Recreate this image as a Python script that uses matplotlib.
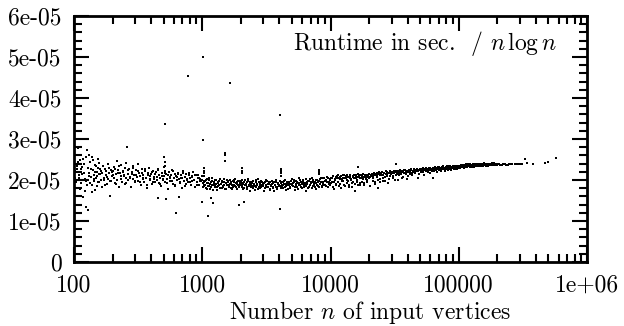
import numpy as np
import matplotlib
matplotlib.use("Agg")
import matplotlib.pyplot as plt
from matplotlib.ticker import LogLocator, MultipleLocator, NullFormatter

# runtime / (n log n), values in units of 1e-5 sec
n_1e2 = [101, 103, 104, 105, 106, 107, 109, 110, 111, 112,
         114, 116, 117, 118, 119, 121, 122, 123, 124, 126,
         127, 128, 129,
         131, 133, 134, 136, 137, 139, 141, 142, 144, 146,
         148, 150, 152, 154, 156, 158, 160, 163, 165, 167,
         170, 172, 175, 177, 180, 183, 185, 188, 191, 193,
         196, 198,
         201, 204, 206, 209, 212, 215, 218, 221, 224, 227,
         231, 234, 237, 241, 244, 248, 252, 256, 256, 259,
         262, 266, 270, 274, 278, 282, 286, 291, 295, 300,
         304, 309, 313, 318, 323, 328, 333, 338, 343, 348,
         354, 359, 365, 370, 376, 382, 388, 394, 400, 406,
         412, 418,
         424, 430, 437, 443, 450, 452, 457, 464, 471, 478,
         485, 492, 499, 504, 507, 512, 512, 512, 513, 516,
         520, 524, 532, 540, 548, 556, 565, 573, 582, 591,
         600, 609, 618, 623, 628, 637, 647, 657, 660, 667,
         677, 688, 698, 709, 720, 731, 742, 753, 765, 774,
         777, 789, 801, 813, 826, 838, 851, 864, 878, 891,
         905, 919, 933, 948, 962, 977, 992,
         102, 108, 113, 115, 120, 125, 130, 132, 135, 138,
         140, 143, 145, 147, 149, 151, 153, 155, 157, 159,
         162, 166, 169, 174, 178, 182, 187, 192, 197, 203,
         208, 214, 220, 226, 233, 240, 247, 255, 264, 272,
         281, 289, 298, 307, 317, 327, 337, 347, 358, 369,
         380, 392, 404, 416, 428, 440, 455, 468, 482, 497,
         511, 527, 544, 561, 578, 596, 614, 633, 652, 672,
         693, 714, 736, 759, 782, 806, 831, 857, 883, 910,
         938, 967, 996]
r_1e2 = [2.21, 2.62, 1.95, 2.28, 2.35, 2.78, 2.05, 2.12, 2.48, 1.78,
         2.26, 2.14, 1.58, 2.52, 2.40, 2.02, 1.72, 2.55, 1.34, 2.73,
         1.88, 1.27, 2.30,
         2.18, 2.44, 1.92, 2.08, 2.56, 1.70, 2.25, 2.12, 1.98, 2.36,
         2.04, 2.19, 1.86, 2.29, 2.41, 1.95, 2.15, 2.22, 1.82, 2.33,
         2.06, 1.99, 2.27, 2.13, 1.90, 2.38, 2.02, 2.17, 1.61, 2.24,
         1.97, 2.10,
         2.21, 2.05, 2.32, 1.93, 2.14, 2.46, 2.01, 2.25, 1.84, 2.18,
         2.09, 2.36, 1.96, 2.22, 2.11, 1.90, 2.29, 2.04, 2.41, 2.80,
         2.15, 1.99, 2.26, 2.08, 1.82, 2.19, 2.33, 2.02, 2.13, 1.94,
         2.24, 2.07, 2.38, 1.98, 2.16, 2.10, 1.87, 2.27, 2.03, 2.12,
         1.95, 2.21, 2.06, 1.80, 2.17, 2.30, 1.99, 2.09, 2.14, 1.91,
         2.23, 2.02,
         2.08, 1.96, 2.19, 2.01, 2.27, 1.56, 1.92, 2.12, 2.05, 1.86,
         2.16, 1.99, 2.31, 2.56, 2.09, 2.22, 2.34, 2.45, 3.37, 1.94,
         1.54, 2.14, 2.03, 1.78, 2.20, 2.07, 1.97, 2.11, 2.25, 1.90,
         2.04, 2.15, 1.85, 1.20, 2.09, 1.99, 2.18, 2.02, 1.59, 1.93,
         2.12, 2.06, 1.81, 2.22, 1.98, 2.08, 1.91, 2.14, 2.01, 4.54,
         1.95, 2.17, 2.04, 1.87, 2.10, 1.97, 2.19, 2.00, 1.84, 2.11,
         1.94, 2.06, 2.13, 1.89, 2.03, 1.98, 2.09,
         2.05, 2.44, 1.92, 2.31, 2.17, 1.98, 2.60, 2.10, 2.27, 1.89,
         2.48, 2.03, 2.20, 1.76, 2.33, 2.09, 2.52, 1.94, 2.14, 2.26,
         2.00, 2.18, 2.35, 1.88, 2.23, 2.07, 2.30, 1.97, 2.20, 2.12,
         2.28, 1.91, 2.16, 2.34, 2.03, 2.19, 2.10, 1.93, 2.24, 2.05,
         2.14, 2.30, 1.98, 2.11, 2.22, 1.95, 2.18, 2.06, 2.26, 1.89,
         2.12, 2.03, 2.20, 1.96, 2.15, 2.07, 2.24, 1.90, 2.10, 2.02,
         2.17, 1.93, 2.12, 2.05, 1.98, 2.21, 1.88, 2.08, 2.14, 1.96,
         2.04, 2.16, 1.86, 2.02, 2.11, 1.94, 2.07, 1.99, 2.13, 1.88,
         2.05, 1.97, 2.01]

n_1e3 = [1000, 1007, 1014, 1014, 1024, 1024, 1024, 1024, 1024, 1024,
         1040, 1056, 1072, 1088, 1105, 1110, 1122, 1139, 1157, 1170,
         1175, 1193, 1210, 1211, 1230, 1249, 1268, 1288, 1308, 1328,
         1349, 1370, 1391, 1413, 1435, 1457, 1480, 1503, 1506, 1510,
         1527, 1550, 1575, 1599, 1624, 1644, 1650, 1675, 1701, 1728,
         1755, 1782, 1810, 1838, 1867, 1896, 1926, 1940, 1956, 1987,
         2018, 2048, 2048, 2048, 2048, 2048, 2080, 2110, 2113, 2146,
         2180, 2214, 2249, 2284, 2320, 2356, 2393, 2431, 2469, 2508,
         2547, 2587, 2628, 2669, 2711, 2754, 2797, 2841, 2885, 2931,
         2977, 3024, 3071, 3119, 3168, 3218, 3269, 3320, 3372, 3425,
         3479, 3534, 3589, 3646, 3703, 3761, 3820, 3880, 3941, 4003,
         4036, 4050, 4096, 4096, 4096, 4096, 4096, 4096, 4160, 4226,
         4292, 4360, 4428, 4498, 4569, 4641, 4714, 4788, 4864, 4940,
         5018, 5097, 5177, 5259, 5342, 5426, 5511, 5598, 5686, 5776,
         5867, 5959, 6053, 6148, 6245, 6343, 6443, 6545, 6648, 6752,
         6859, 6967, 7076, 7188, 7301, 7416, 7533, 7651, 7772, 7894,
         8018, 8192, 8192, 8192, 8192, 8272, 8403, 8535, 8670, 8806,
         8945, 9086, 9229, 9374, 9521, 9671, 9823, 9978,
         1016, 1031, 1048, 1064, 1080, 1097, 1114, 1131, 1148, 1166,
         1184, 1202, 1220, 1239, 1258, 1278, 1298, 1318, 1338, 1359,
         1380, 1402, 1424, 1446, 1468, 1491, 1515, 1538, 1562, 1587,
         1612, 1637, 1662, 1688, 1714, 1741, 1768, 1796, 1824, 1852,
         1881, 1911, 1941, 1971, 2002, 2033, 2064, 2097, 2130, 2163,
         2197, 2231, 2266, 2302, 2338, 2374, 2412, 2450, 2488, 2527,
         2567, 2607, 2648, 2690, 2732, 2775, 2819, 2863, 2908, 2954,
         3000, 3047, 3095, 3144, 3193, 3243, 3294, 3346, 3399, 3452,
         3506, 3561, 3617, 3674, 3732, 3790, 3850, 3910, 3972, 4066,
         4130, 4194, 4259, 4326, 4394, 4463, 4533, 4605, 4677, 4751,
         4825, 4901, 4978, 5057, 5136, 5217, 5299, 5383, 5467, 5553,
         5641, 5730, 5820, 5912, 6005, 6099, 6195, 6293, 6392, 6493,
         6595, 6699, 6804, 6912, 7020, 7131, 7243, 7357, 7473, 7591,
         7710, 7832, 7955, 8081, 8208, 8337, 8468, 8602, 8737, 8875,
         9015, 9157, 9301, 9447, 9596, 9747, 9900]
r_1e3 = [1.46, 1.93, 5.00, 2.98, 2.10, 2.16, 2.22, 2.29, 1.98, 1.85,
         1.89, 1.97, 1.80, 2.02, 1.92, 1.12, 1.86, 1.99, 1.78, 1.56,
         1.95, 2.04, 1.44, 1.88, 1.93, 1.83, 2.00, 1.90, 1.76, 1.96,
         1.87, 2.03, 1.91, 1.81, 1.98, 1.86, 1.94, 2.61, 2.66, 2.46,
         1.79, 1.99, 1.89, 1.95, 1.84, 4.37, 2.01, 1.92, 1.77, 1.97,
         1.87, 1.94, 2.02, 1.82, 1.90, 1.98, 1.85, 1.39, 1.93, 1.88,
         1.96, 2.17, 2.23, 2.29, 2.01, 1.86, 1.91, 1.46, 1.80, 1.99,
         1.87, 1.94, 1.78, 2.02, 1.89, 1.95, 1.83, 1.92, 1.98, 1.85,
         1.90, 1.76, 1.96, 1.88, 2.03, 1.84, 1.93, 1.80, 1.97, 1.87,
         1.91, 1.72, 1.95, 1.86, 2.00, 1.82, 1.90, 1.94, 1.79, 1.88,
         1.97, 1.84, 1.92, 1.74, 1.89, 1.96, 1.83, 1.91, 1.86, 1.98,
         3.59, 1.29, 2.10, 2.16, 2.21, 2.27, 1.93, 1.80, 1.87, 1.95,
         1.81, 1.90, 1.99, 1.85, 1.93, 1.78, 1.88, 1.96, 1.83, 1.91,
         2.02, 1.86, 1.94, 1.75, 1.89, 1.98, 1.84, 1.92, 2.04, 1.87,
         1.95, 1.80, 1.91, 2.00, 1.86, 1.93, 1.73, 1.90, 1.97, 1.84,
         2.03, 1.89, 1.94, 1.81, 1.99, 1.88, 1.95, 1.78, 1.92, 2.01,
         1.86, 2.15, 2.19, 2.24, 1.97, 1.90, 2.05, 1.83, 1.96, 1.91,
         2.06, 1.87, 1.98, 2.08, 1.82, 1.94, 2.03, 1.89,
         1.84, 1.95, 1.88, 2.00, 1.79, 1.93, 1.86, 2.04, 1.90, 1.82,
         1.97, 1.87, 1.75, 1.94, 1.89, 2.01, 1.83, 1.92, 1.86, 1.98,
         1.80, 1.90, 1.95, 1.84, 1.88, 2.02, 1.78, 1.93, 1.87, 1.97,
         1.85, 1.91, 1.81, 1.96, 1.89, 1.83, 2.00, 1.86, 1.92, 1.77,
         1.94, 1.88, 1.82, 1.97, 1.90, 1.84, 1.93, 1.79, 1.96, 1.87,
         1.91, 1.83, 1.98, 1.86, 1.92, 1.73, 1.89, 1.95, 1.81, 1.90,
         1.86, 1.99, 1.84, 1.91, 1.78, 1.94, 1.87, 1.82, 1.96, 1.89,
         1.85, 1.93, 1.80, 1.88, 1.97, 1.83, 1.91, 1.76, 1.94, 1.86,
         1.90, 1.81, 1.95, 1.87, 1.84, 1.99, 1.79, 1.92, 1.88, 1.85,
         1.94, 1.82, 1.89, 1.97, 1.84, 1.91, 1.76, 1.95, 1.87, 1.93,
         1.80, 1.98, 1.88, 1.85, 1.92, 2.01, 1.83, 1.90, 1.95, 1.78,
         1.93, 1.87, 1.99, 1.84, 1.91, 1.96, 1.82, 1.89, 2.02, 1.86,
         1.94, 1.80, 1.97, 1.88, 1.92, 2.04, 1.85, 1.95, 1.90, 1.83,
         2.00, 1.88, 1.96, 1.84, 2.03, 1.91, 1.94, 1.86, 2.05, 1.89,
         1.97, 2.01, 1.85, 1.95, 2.06, 1.90, 1.99]

n_1e4 = [10135, 10295, 10457, 10622, 10789, 10959, 11131, 11307, 11485, 11666,
         11849, 12036, 12225, 12418, 12613, 12812, 13014, 13219, 13427, 13638,
         13853, 14071, 14293, 14518, 14746, 14978, 15214, 15453, 15697, 15944,
         16195, 16384, 16384, 16450, 16709, 16973, 17240, 17512, 17787, 18068,
         18352, 18641, 18935, 19233, 19536, 19843, 20156, 20473, 20796, 21123,
         21456, 21794, 22137, 22485, 22840, 23199, 23500, 23565, 23936, 24313,
         24696, 25085, 25480, 25881, 26289, 26703, 27123, 27550, 27984, 28425,
         28873, 29327, 29789, 30258, 30735, 31219, 31711, 32210, 32500, 32768,
         33225, 33748, 34280, 34820, 35368, 35925, 36491, 37066, 37650, 38243,
         38845, 39457, 40078, 40710, 41351, 42002, 42664, 43336, 44018, 44711,
         45416, 46131, 46857, 47595, 48345, 49106, 49880, 50665, 51463, 52274,
         53097, 53933, 54783, 55646, 56522, 57412, 58317, 59235, 60168, 61116,
         62078, 63000, 63056, 64049, 65058, 65536, 66083, 67124, 68181, 69255,
         70346, 71454, 72579, 73722, 74883, 76063, 77261, 78478, 79714, 80969,
         82245, 83540, 84856, 86192, 87550, 88929, 90329, 91752, 93197, 94665,
         96156, 97670, 99209,
         10050, 10210, 10370, 10540, 10700, 10870, 11040, 11220, 11400, 11580,
         11760, 11940, 12130, 12320, 12520, 12720, 12920, 13120, 13330, 13540,
         13750, 13970, 14190, 14410, 14640, 14870, 15100, 15340, 15580, 15830,
         16080, 16330, 16590, 16850, 17110, 17380, 17660, 17940, 18220, 18510,
         18800, 19100, 19400, 19700, 20010, 20330, 20650, 20980, 21310, 21640,
         21980, 22330, 22680, 23040, 23400, 23770, 24150, 24530, 24910, 25310,
         25710, 26110, 26520, 26940, 27370, 27800, 28240, 28680, 29130, 29590,
         30060, 30540, 31020, 31510, 32000, 32510, 33020, 33540, 34070, 34610,
         35150, 35710, 36270, 36840, 37420, 38010, 38610, 39220, 39840, 40470,
         41110, 41760, 42420, 43090, 43770, 44460, 45160, 45870, 46600, 47330,
         48080, 48840, 49610, 50390, 51190, 51990, 52810, 53650, 54500, 55350,
         56230, 57120, 58020, 58930, 59860, 60810, 61770, 62740, 63730, 64740,
         65760, 66800, 67850, 68920, 70010, 71110, 72240, 73380, 74530, 75710,
         76900, 78120, 79350, 80600, 81870, 83160, 84480, 85810, 87160, 88540,
         89940, 91360, 92800, 94260, 95750, 97260, 98800]
r_1e4 = [2.06, 1.95, 2.10, 1.78, 2.02, 2.08, 1.91, 2.05, 2.11, 1.85,
         2.03, 2.09, 1.97, 2.06, 2.12, 1.88, 2.04, 2.10, 1.99, 2.07,
         1.83, 2.05, 2.13, 2.01, 1.93, 2.08, 2.11, 1.73, 2.04, 2.09,
         1.96, 2.32, 2.14, 2.07, 2.12, 1.88, 2.06, 2.10, 2.02, 2.14,
         1.92, 2.08, 2.12, 1.99, 2.09, 2.15, 1.85, 2.07, 2.13, 2.11,
         2.04, 2.16, 1.95, 2.13, 2.18, 2.07, 1.80, 2.14, 2.19, 2.02,
         2.15, 2.20, 1.98, 2.12, 2.17, 2.08, 2.21, 2.14, 1.93, 2.18,
         2.22, 2.10, 2.16, 2.20, 2.05, 2.19, 2.23, 2.13, 2.39, 2.18,
         2.21, 1.99, 2.17, 2.24, 2.15, 2.20, 2.08, 2.22, 2.25, 2.17,
         2.21, 2.03, 2.19, 2.24, 2.14, 2.22, 2.26, 2.11, 2.20, 2.25,
         2.18, 2.23, 2.27, 2.21, 2.06, 2.24, 2.28, 2.19, 2.25, 2.22,
         2.29, 2.13, 2.26, 2.23, 2.28, 2.20, 2.25, 2.30, 2.17, 2.27,
         2.24, 2.05, 2.29, 2.22, 2.27, 2.31, 2.25, 2.19, 2.28, 2.31,
         2.24, 2.29, 2.21, 2.27, 2.32, 2.26, 2.30, 2.23, 2.28, 2.33,
         2.25, 2.30, 2.27, 2.32, 2.24, 2.29, 2.34, 2.27, 2.31, 2.28,
         2.33, 2.26, 2.31,
         1.92, 2.04, 1.83, 2.09, 1.96, 2.01, 1.87, 2.10, 1.94, 2.05,
         1.90, 2.08, 1.81, 2.03, 1.98, 2.11, 1.86, 2.06, 1.93, 2.12,
         1.97, 1.89, 2.07, 2.02, 1.84, 2.10, 1.95, 2.06, 1.90, 2.13,
         2.00, 1.87, 2.09, 2.04, 1.93, 2.11, 1.96, 2.07, 1.89, 2.13,
         2.02, 2.08, 1.94, 2.12, 2.05, 1.86, 2.10, 2.14, 1.98, 2.07,
         2.12, 1.91, 2.15, 2.09, 2.01, 2.17, 2.11, 1.95, 2.16, 2.13,
         2.06, 2.18, 1.97, 2.15, 2.19, 2.10, 2.17, 2.02, 2.20, 2.14,
         2.18, 2.09, 2.21, 2.16, 2.00, 2.19, 2.15, 2.22, 2.12, 2.20,
         2.17, 2.23, 2.06, 2.21, 2.18, 2.24, 2.15, 2.22, 2.19, 2.10,
         2.23, 2.20, 2.25, 2.17, 2.22, 2.26, 2.19, 2.24, 2.21, 2.27,
         2.23, 2.14, 2.26, 2.22, 2.28, 2.25, 2.20, 2.27, 2.24, 2.29,
         2.26, 2.22, 2.28, 2.30, 2.25, 2.27, 2.21, 2.29, 2.26, 2.31,
         2.28, 2.24, 2.30, 2.27, 2.32, 2.29, 2.25, 2.31, 2.28, 2.33,
         2.30, 2.26, 2.32, 2.29, 2.34, 2.28, 2.31, 2.33, 2.27, 2.32,
         2.30, 2.35, 2.29, 2.33, 2.31, 2.34, 2.30]

n_1e5 = [100771, 102358, 103971, 105608, 107272, 108961, 110677, 112421, 114191, 115990,
         117817, 119672, 121557, 123472, 125417, 127392, 129398, 131072, 131436, 133506,
         135609, 137745, 139914, 142118, 144356, 146630, 148940, 151285, 153668, 156089,
         158547, 161044, 163581, 166157, 168774, 171433, 174133, 176876, 179662, 182491,
         185366, 188286, 191251, 194264, 197323, 200431, 210000, 222000, 235000, 248000,
         262144, 275000, 290000, 329000, 341000, 380000, 470000, 496000, 573000,
         101500, 104800, 106400, 109800, 111500, 113300, 116900, 118700, 120600, 122500,
         124400, 126400, 128400, 130300, 132400, 134500, 136600, 138800, 141000, 143200,
         145500, 147800, 150100, 152400, 154800, 157300, 159800, 162300, 164800, 167400,
         170100, 172800, 175500, 178300, 181100, 184000, 186900, 189800, 192800, 195900,
         205000, 216000, 229000, 242000, 255000, 283000, 300000, 312000]
r_1e5 = [2.34, 2.29, 2.35, 2.31, 2.36, 2.30, 2.34, 2.37, 2.32, 2.35,
         2.38, 2.33, 2.36, 2.31, 2.37, 2.34, 2.39, 2.35, 2.32, 2.38,
         2.35, 2.40, 2.33, 2.37, 2.35, 2.39, 2.36, 2.34, 2.38, 2.41,
         2.36, 2.39, 2.35, 2.38, 2.40, 2.37, 2.39, 2.36, 2.38, 2.41,
         2.37, 2.39, 2.38, 2.40, 2.37, 2.39, 2.37, 2.38, 2.36, 2.38,
         2.39, 2.38, 2.40, 2.51, 2.41, 2.39, 2.41, 2.44, 2.54,
         2.31, 2.36, 2.33, 2.29, 2.35, 2.38, 2.32, 2.36, 2.34, 2.38,
         2.35, 2.32, 2.37, 2.36, 2.33, 2.39, 2.37, 2.34, 2.38, 2.36,
         2.40, 2.35, 2.38, 2.37, 2.34, 2.39, 2.37, 2.40, 2.36, 2.38,
         2.35, 2.39, 2.37, 2.40, 2.38, 2.36, 2.39, 2.41, 2.37, 2.39,
         2.38, 2.36, 2.39, 2.37, 2.38, 2.39, 2.38, 2.40]

x_ticks = [100, 1000, 10000, 100000, 1000000]
x_labels = ["100", "1000", "10000", "100000", "1e+06"]
y_ticks = [0, 1e-5, 2e-5, 3e-5, 4e-5, 5e-5, 6e-5]
y_labels = ["0", "1e-05", "2e-05", "3e-05", "4e-05", "5e-05", "6e-05"]

plt.rcParams["font.family"] = "cmr10"
plt.rcParams["mathtext.fontset"] = "cm"
plt.rcParams["axes.unicode_minus"] = False

n = np.array(n_1e2 + n_1e3 + n_1e4 + n_1e5, dtype=float)
r = np.array(r_1e2 + r_1e3 + r_1e4 + r_1e5) * 1e-5

fig = plt.figure(figsize=(6.24, 3.26), dpi=100)
ax = fig.add_axes([74 / 624, 64 / 326, 513 / 624, 246 / 326])
ax.plot(n, r, linestyle="none", marker="s", markersize=1.9,
        markeredgewidth=0, color="black")

ax.set_xscale("log")
ax.set_xlim(100, 1e6)
ax.set_ylim(0, 6e-5)
ax.set_xticks(x_ticks)
ax.set_xticklabels(x_labels)
ax.xaxis.set_minor_locator(LogLocator(base=10, subs=np.arange(2, 10)))
ax.xaxis.set_minor_formatter(NullFormatter())
ax.set_yticks(y_ticks)
ax.set_yticklabels(y_labels)
ax.yaxis.set_minor_locator(MultipleLocator(2e-6))

for s in ax.spines.values():
    s.set_linewidth(2)
ax.tick_params(which="both", direction="in", top=True, right=True, width=1.5,
               labelsize=17, pad=9)
ax.tick_params(which="major", length=11)
ax.tick_params(which="minor", length=6)

fig.text(370 / 624, 7 / 326, "Number $n$ of input vertices", fontsize=17,
         ha="center", va="baseline")
ax.text(0.9415, 0.862, "Runtime in sec.  / $n\\,\\log n$", transform=ax.transAxes,
        ha="right", va="baseline", fontsize=17)

fig.savefig("out.png", dpi=100)
